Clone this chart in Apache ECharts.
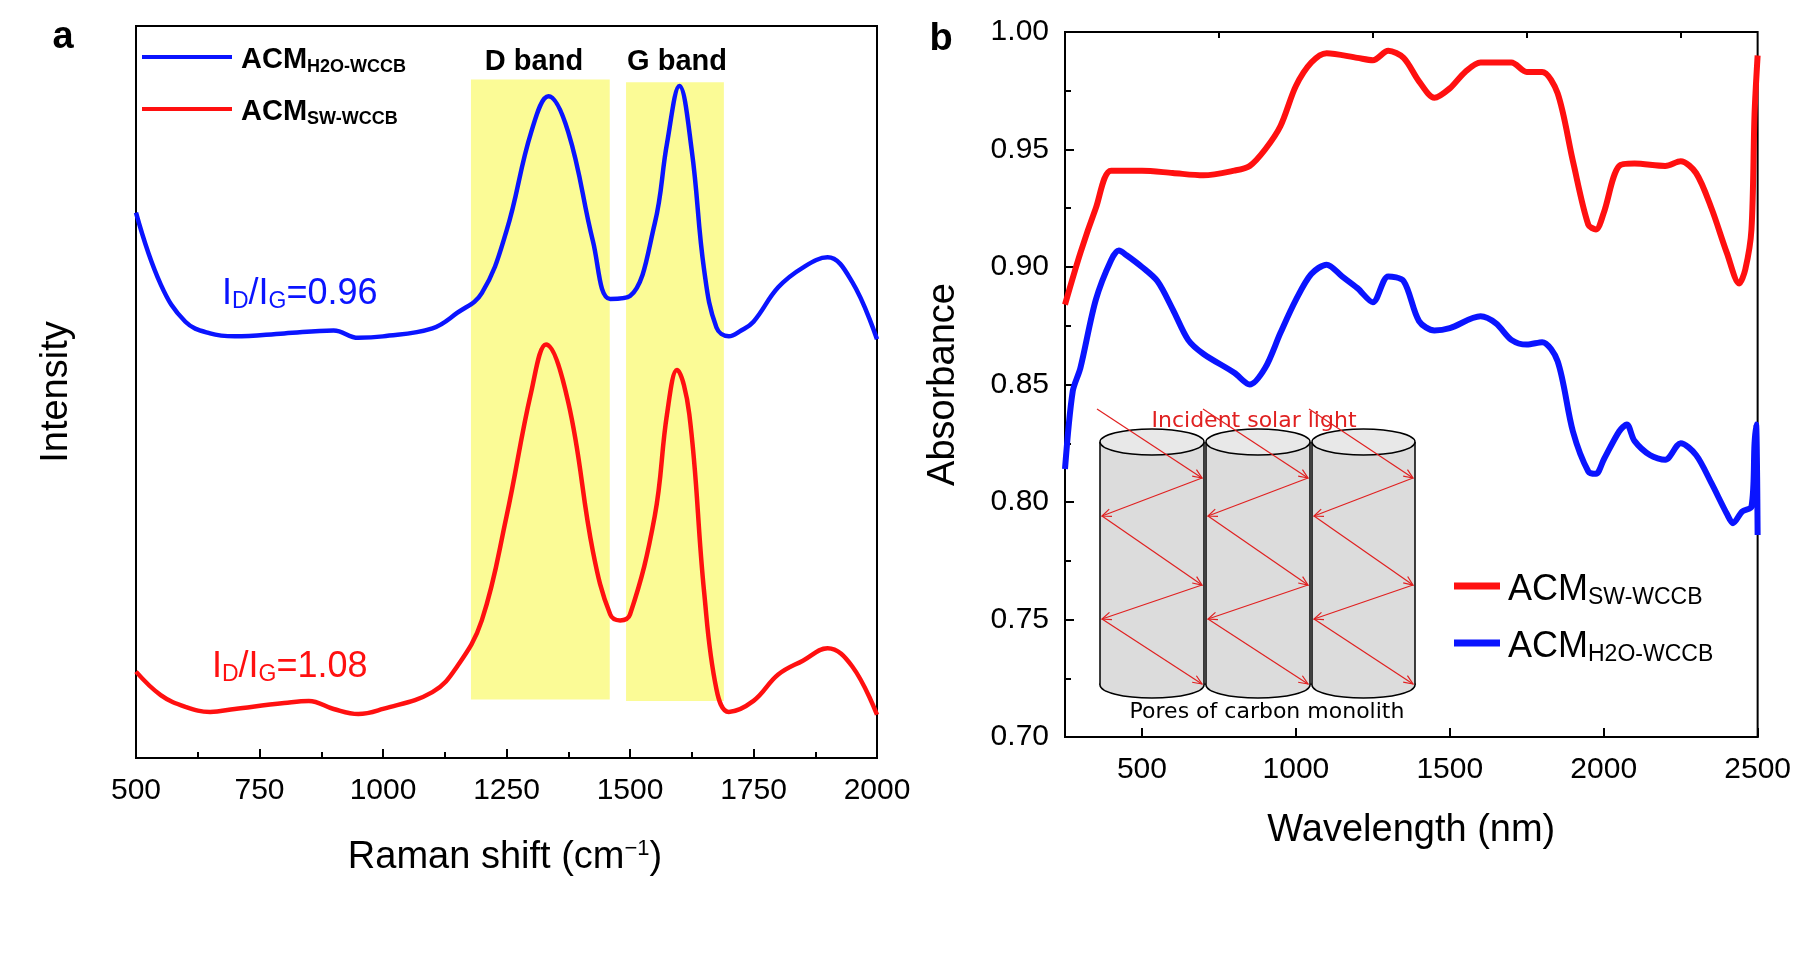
<!DOCTYPE html>
<html>
<head>
<meta charset="utf-8">
<script src="https://cdn.jsdelivr.net/npm/echarts@6/dist/echarts.min.js"></script>
<style>html,body{margin:0;padding:0;background:#fff}#chart{width:1794px;height:954px}</style>
</head>
<body>
<div id="chart"></div>
<script>
// panel a: Raman
var ramanX    = [500,550,600,650,700,800,900,950,1000,1100,1150,1200,1250,1300,1335,1375,1425,1460,1500,1550,1575,1600,1625,1650,1675,1700,1725,1750,1800,1850,1900,1950,2000];
var ramanH2O  = [74.5,64.7,59.6,58,57.6,58,58.4,57.4,57.6,58.7,60.8,63.5,72,85.5,90.4,85.5,70.6,62.7,63.1,73,84,91.8,83,66.7,58.8,57.6,58.4,59.6,64.3,67,68.4,65,57.2];
var ramanSWX  = [500,550,600,650,700,800,850,900,950,1000,1100,1150,1200,1250,1300,1330,1375,1425,1460,1480,1500,1550,1575,1595,1620,1650,1675,1700,1750,1800,1850,1900,1950,2000];
var ramanSW   = [11.8,8.6,7,6.3,6.7,7.5,7.8,6.7,6,6.7,9,12.5,18.8,33,50,56.5,48.6,28.2,19.6,18.8,19.6,33,47,53,47,22.7,9.4,6.3,7.8,11.4,13.3,15,12.5,5.9];
var bandD = [1178, 1459, 8, 92.7];
var bandG = [1492, 1690, 7.8, 92.3];

// panel b: absorbance
var absSWX = [250,300,350,400,500,600,700,800,850,900,950,1000,1050,1100,1200,1250,1300,1350,1400,1450,1500,1550,1600,1700,1750,1800,1850,1900,1950,1975,2000,2050,2100,2200,2250,2300,2350,2400,2440,2460,2480,2490,2500];
var absSW  = [0.884,0.906,0.925,0.941,0.941,0.940,0.939,0.941,0.943,0.950,0.960,0.977,0.987,0.991,0.989,0.988,0.992,0.989,0.979,0.972,0.976,0.983,0.987,0.987,0.983,0.983,0.974,0.945,0.918,0.916,0.923,0.943,0.944,0.943,0.945,0.940,0.925,0.906,0.893,0.899,0.916,0.965,0.990];
var absH2OX = [250,275,300,350,400,425,450,500,550,600,650,700,800,850,900,950,1000,1050,1100,1150,1200,1250,1300,1350,1400,1450,1500,1600,1650,1700,1750,1800,1850,1900,1950,1975,2000,2050,2075,2100,2150,2200,2250,2300,2350,2400,2420,2450,2480,2490,2495,2500];
var absH2O  = [0.814,0.847,0.857,0.886,0.903,0.907,0.905,0.900,0.894,0.882,0.869,0.863,0.855,0.850,0.857,0.872,0.886,0.897,0.901,0.896,0.891,0.885,0.896,0.894,0.877,0.873,0.874,0.879,0.876,0.869,0.867,0.868,0.860,0.830,0.813,0.812,0.818,0.830,0.833,0.826,0.820,0.818,0.825,0.820,0.808,0.795,0.791,0.796,0.798,0.825,0.833,0.786];

var majorB = [500,1000,1500,2000,2500];
var minorB = [750,1250,1750,2250];

function zip(xs, ys) { return xs.map(function (x, i) { return [x, ys[i]]; }); }

var FONT = 'Liberation Sans, Arial, sans-serif';
var BLUE = '#0a14ff', RED = '#ff1010';
var chart = echarts.init(document.getElementById('chart'));

var axisLineStyle = { lineStyle: { color: '#000', width: 2 } };
var plain = function (v) { return String(v); };

// inset drawing: three cylinders with zigzag light paths
var cyl = [[1100,1204],[1206,1310],[1312,1415]];
var gfx = [];
cyl.forEach(function (c) {
  var cx = (c[0] + c[1]) / 2, rx = (c[1] - c[0]) / 2;
  gfx.push({ type: 'ellipse', shape: { cx: cx, cy: 685, rx: rx, ry: 13 }, style: { fill: '#dcdcdc', stroke: '#000', lineWidth: 1.5 }, z: 10 });
  gfx.push({ type: 'rect', shape: { x: c[0], y: 442, width: c[1] - c[0], height: 243 }, style: { fill: '#dcdcdc', stroke: null }, z: 11 });
  gfx.push({ type: 'line', shape: { x1: c[0], y1: 442, x2: c[0], y2: 685 }, style: { stroke: '#000', lineWidth: 1.5 }, z: 12 });
  gfx.push({ type: 'line', shape: { x1: c[1], y1: 442, x2: c[1], y2: 685 }, style: { stroke: '#000', lineWidth: 1.5 }, z: 12 });
  gfx.push({ type: 'ellipse', shape: { cx: cx, cy: 442, rx: rx, ry: 13 }, style: { fill: '#e8e8e8', stroke: '#000', lineWidth: 1.5 }, z: 12 });
  var L = c[0] + 2, R = c[1] - 2;
  var pts = [[L - 5, 409], [R, 478], [L, 516], [R, 585], [L, 619], [R, 684]];
  for (var i = 0; i < pts.length - 1; i++) {
    var a = pts[i], b = pts[i + 1];
    gfx.push({ type: 'line', shape: { x1: a[0], y1: a[1], x2: b[0], y2: b[1] }, style: { stroke: '#e02020', lineWidth: 1.2 }, z: 13 });
    var ang = Math.atan2(b[1] - a[1], b[0] - a[0]), h = 10;
    gfx.push({ type: 'polyline', shape: { points: [
      [b[0] - h * Math.cos(ang - 0.4), b[1] - h * Math.sin(ang - 0.4)], b,
      [b[0] - h * Math.cos(ang + 0.4), b[1] - h * Math.sin(ang + 0.4)]] },
      style: { stroke: '#e02020', lineWidth: 1.2, fill: null }, z: 13 });
  }
});
gfx.push({ type: 'text', x: 1254, y: 421, style: { text: 'Incident solar light', fill: '#e02020', font: '22px "Comic Sans MS", "DejaVu Sans", sans-serif', align: 'center', verticalAlign: 'middle' }, z: 14 });
gfx.push({ type: 'text', x: 1267, y: 712, style: { text: 'Pores of carbon monolith', fill: '#000', font: '22px "Comic Sans MS", "DejaVu Sans", sans-serif', align: 'center', verticalAlign: 'middle' }, z: 14 });

var rich = {
  b: { fontFamily: FONT, fontWeight: 'bold', fontSize: 29, fill: '#000' },
  bs: { fontFamily: FONT, fontWeight: 'bold', fontSize: 18, fill: '#000', padding: [14, 0, 0, 0] },
  n: { fontFamily: FONT, fontSize: 36, fill: '#000' },
  ns: { fontFamily: FONT, fontSize: 23, fill: '#000', padding: [16, 0, 0, 0] }
};
function txt(x, y, text, r, extra) {
  var o = { type: 'text', x: x, y: y, z: 20, style: { text: text, rich: r || rich, verticalAlign: 'middle', fill: '#000' } };
  if (extra) Object.assign(o.style, extra);
  return o;
}
// legends
gfx.push({ type: 'line', shape: { x1: 142, y1: 57, x2: 232, y2: 57 }, style: { stroke: BLUE, lineWidth: 4 }, z: 20 });
gfx.push(txt(241, 60, '{b|ACM}{bs|H2O-WCCB}'));
gfx.push({ type: 'line', shape: { x1: 142, y1: 109, x2: 232, y2: 109 }, style: { stroke: RED, lineWidth: 4 }, z: 20 });
gfx.push(txt(241, 112, '{b|ACM}{bs|SW-WCCB}'));
gfx.push({ type: 'line', shape: { x1: 1454, y1: 586, x2: 1500, y2: 586 }, style: { stroke: RED, lineWidth: 7 }, z: 20 });
gfx.push(txt(1508, 590, '{n|ACM}{ns|SW-WCCB}'));
gfx.push({ type: 'line', shape: { x1: 1454, y1: 643, x2: 1500, y2: 643 }, style: { stroke: BLUE, lineWidth: 7 }, z: 20 });
gfx.push(txt(1508, 647, '{n|ACM}{ns|H2O-WCCB}'));
// ratio labels
function ratio(x, y, val, col) {
  var r = { m: { fontFamily: FONT, fontSize: 36, fill: col }, s: { fontFamily: FONT, fontSize: 23, fill: col, padding: [16, 0, 0, 0] } };
  return txt(x, y, '{m|I}{s|D}{m|/I}{s|G}{m|=' + val + '}', r);
}
gfx.push(ratio(222, 294, '0.96', BLUE));
gfx.push(ratio(212, 667, '1.08', RED));
gfx.push(txt(534, 62, 'D band', null, { font: 'bold 29px ' + FONT, align: 'center' }));
gfx.push(txt(677, 62, 'G band', null, { font: 'bold 29px ' + FONT, align: 'center' }));
gfx.push(txt(63, 38, 'a', null, { font: 'bold 38px ' + FONT, align: 'center' }));
gfx.push(txt(941, 40, 'b', null, { font: 'bold 38px ' + FONT, align: 'center' }));
gfx.push(txt(505, 858, '{t|Raman shift (cm}{u|−1}{t|)}', {
  t: { fontFamily: FONT, fontSize: 38, fill: '#000' },
  u: { fontFamily: FONT, fontSize: 22, fill: '#000', padding: [0, 0, 18, 0] } }, { align: 'center' }));

var option = {
  animation: false,
  textStyle: { fontFamily: FONT },
  graphic: gfx,
  grid: [
    { left: 136, top: 26, width: 741, height: 732, show: true, borderColor: '#000', borderWidth: 2 },
    { left: 1065, top: 32, width: 714, height: 705, show: true, borderColor: '#000', borderWidth: 2 }
  ],
  xAxis: [
    { gridIndex: 0, type: 'value', min: 500, max: 2000, interval: 250,
      axisLine: axisLineStyle, axisTick: { inside: true, length: 9, lineStyle: { width: 2 } },
      minorTick: { show: true, splitNumber: 2, length: 6, lineStyle: { color: '#000', width: 2 } },
      splitLine: { show: false }, axisLabel: { color: '#000', fontSize: 30, margin: 18, formatter: plain } },
    { gridIndex: 1, type: 'value', min: 250, max: 2500, name: 'Wavelength (nm)', nameLocation: 'middle', nameGap: 75,
      nameTextStyle: { fontSize: 38, color: '#000' },
      axisLine: axisLineStyle, axisTick: { inside: true, length: 9, customValues: majorB, lineStyle: { width: 2 } },
      splitLine: { show: false }, axisLabel: { color: '#000', fontSize: 30, margin: 18, customValues: majorB, formatter: plain } },
    { gridIndex: 1, type: 'value', min: 250, max: 2500, axisLine: { show: false },
      axisTick: { inside: true, length: 6, customValues: minorB, lineStyle: { width: 2, color: '#000' } },
      axisLabel: { show: false, customValues: minorB }, splitLine: { show: false } }
  ],
  yAxis: [
    { gridIndex: 0, type: 'value', min: 0, max: 100, name: 'Intensity', nameLocation: 'middle', nameGap: 60,
      nameTextStyle: { fontSize: 38, color: '#000' },
      axisLine: axisLineStyle, axisTick: { show: false }, axisLabel: { show: false }, splitLine: { show: false } },
    { gridIndex: 1, type: 'value', min: 0.7, max: 1.0, interval: 0.05, name: 'Absorbance', nameLocation: 'middle', nameGap: 102,
      nameTextStyle: { fontSize: 38, color: '#000' },
      axisLine: axisLineStyle, axisTick: { inside: true, length: 9, lineStyle: { width: 2 } },
      minorTick: { show: true, splitNumber: 2, length: 6, lineStyle: { color: '#000', width: 2 } },
      splitLine: { show: false },
      axisLabel: { color: '#000', fontSize: 30, margin: 16, formatter: function (v) { return v.toFixed(2); } } }
  ],
  series: [
    { type: 'line', xAxisIndex: 0, yAxisIndex: 0, data: zip(ramanX, ramanH2O), smooth: 0.4, showSymbol: false,
      lineStyle: { color: BLUE, width: 4.5 }, z: 5,
      markArea: { silent: true, itemStyle: { color: '#fbfb96' }, data: [
        [{ coord: [bandD[0], bandD[2]] }, { coord: [bandD[1], bandD[3]] }],
        [{ coord: [bandG[0], bandG[2]] }, { coord: [bandG[1], bandG[3]] }]
      ] } },
    { type: 'line', xAxisIndex: 0, yAxisIndex: 0, data: zip(ramanSWX, ramanSW), smooth: 0.4, showSymbol: false,
      lineStyle: { color: RED, width: 4.5 }, z: 5 },
    { type: 'line', xAxisIndex: 1, yAxisIndex: 1, data: zip(absSWX, absSW), smooth: 0.3, showSymbol: false,
      lineStyle: { color: RED, width: 6 }, z: 5 },
    { type: 'line', xAxisIndex: 1, yAxisIndex: 1, data: zip(absH2OX, absH2O), smooth: 0.3, showSymbol: false,
      lineStyle: { color: BLUE, width: 6 }, z: 5 }
  ]
};
chart.setOption(option);
</script>
</body>
</html>
